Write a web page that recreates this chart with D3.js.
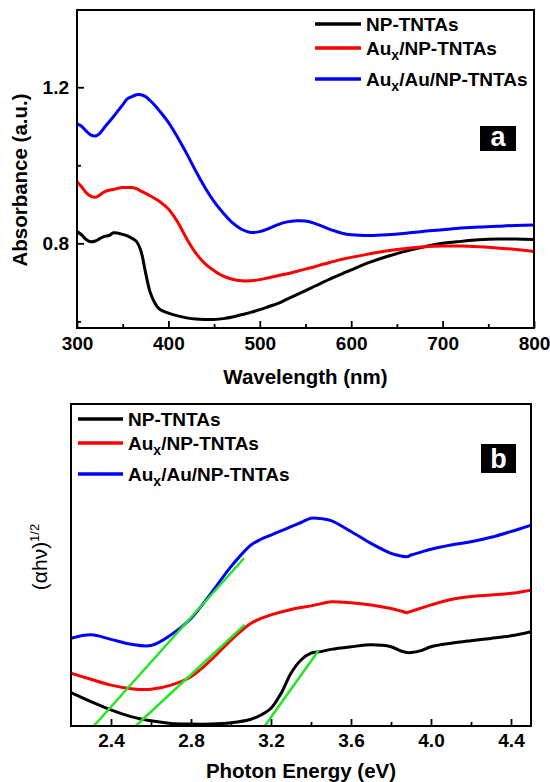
<!DOCTYPE html>
<html>
<head>
<meta charset="utf-8">
<script src="https://cdn.jsdelivr.net/npm/d3@7"></script>
<style>
  html, body { margin: 0; padding: 0; background: #fff; }
  svg text { font-family: "Liberation Sans", Arial, sans-serif; }
</style>
</head>
<body>
<svg id="fig" width="550" height="782"></svg>
<script>
// ---- Panel (a): UV-vis absorbance spectra ----
const wavelength = [300,305,310,315,320,325,330,335,340,345,350,355,360,365,370,375,380,385,390,400,410,420,430,440,450,460,470,480,490,500,510,520,530,540,550,560,570,580,590,600,620,640,660,680,700,720,740,760,780,800];
const absNP = [0.830,0.822,0.810,0.804,0.806,0.812,0.818,0.820,0.827,0.826,0.823,0.819,0.813,0.805,0.780,0.725,0.675,0.648,0.632,0.621,0.614,0.609,0.606,0.605,0.605,0.607,0.611,0.617,0.623,0.630,0.638,0.646,0.657,0.668,0.679,0.690,0.701,0.712,0.722,0.732,0.751,0.767,0.780,0.791,0.800,0.805,0.809,0.811,0.811,0.810];
const absAuxNP = [0.958,0.945,0.930,0.921,0.918,0.924,0.932,0.936,0.938,0.941,0.943,0.943,0.943,0.940,0.934,0.928,0.922,0.915,0.908,0.888,0.855,0.812,0.775,0.748,0.730,0.716,0.708,0.704,0.704,0.707,0.712,0.717,0.722,0.728,0.734,0.740,0.747,0.753,0.759,0.764,0.773,0.781,0.787,0.791,0.793,0.793,0.791,0.788,0.784,0.779];
const absAuxAuNP = [1.106,1.100,1.088,1.078,1.075,1.082,1.097,1.111,1.125,1.140,1.155,1.170,1.176,1.181,1.181,1.176,1.166,1.154,1.140,1.110,1.072,1.030,0.985,0.943,0.907,0.878,0.853,0.836,0.828,0.830,0.838,0.848,0.855,0.858,0.857,0.851,0.842,0.833,0.826,0.822,0.820,0.822,0.826,0.831,0.835,0.839,0.842,0.844,0.846,0.847];
const wlMajorTicks = [300,400,500,600,700,800];
const wlMinorTicks = [350,450,550,650,750];
const absMajorTicks = [0.8,1.2];
const absMinorTicks = [0.6,1.0];

// ---- Panel (b): Tauc plot ----
const energy = [2.2,2.3,2.4,2.5,2.6,2.7,2.8,2.9,3.0,3.1,3.15,3.2,3.25,3.3,3.35,3.4,3.45,3.5,3.6,3.7,3.8,3.85,3.88,3.9,3.95,4.0,4.1,4.2,4.3,4.4,4.5];
const taucNP = [10.4,7.6,5.0,2.9,1.6,0.8,0.6,0.6,1.0,2.1,3.4,5.5,10.1,16.4,20.5,22.6,23.1,23.8,24.6,25.2,24.6,23.3,22.8,22.8,23.4,24.6,25.7,26.5,27.2,28.0,29.3];
const taucAuxNP = [16.4,14.5,12.7,11.6,11.4,12.7,15.3,20.5,26.7,31.9,33.4,34.5,35.4,36.2,36.8,37.3,38.0,38.6,38.3,37.6,36.5,35.7,35.2,35.6,36.6,37.6,39.3,40.2,40.7,41.2,42.2];
const taucAuxAuNP = [27.2,28.3,26.9,25.4,25.0,28.3,33.4,41.2,49.5,56.2,58.0,59.3,60.6,61.9,63.2,64.5,64.4,63.8,60.4,56.7,53.6,52.8,52.6,53.1,54.0,54.9,56.2,57.2,58.6,60.4,62.4];
// Linear extrapolations of the absorption edges: [x0, y0, x1, y1]
const edgeFits = [
  [2.314, 0, 3.065, 52.1],
  [2.523, 0, 3.068, 31.4],
  [3.169, 0, 3.437, 23.4]
];
const eMajorTicks = [2.4,2.8,3.2,3.6,4.0,4.4];
const eMinorTicks = [2.6,3.0,3.4,3.8,4.2];

const seriesNames = ["NP-TNTAs", "Aux/NP-TNTAs", "Aux/Au/NP-TNTAs"];
const seriesColors = ["#000000", "#ff0000", "#0000ff"];

const svg = d3.select("#fig");

function legend(g, x0, x1, rows) {
  rows.forEach((ly, i) => {
    g.append("line").attr("x1", x0).attr("x2", x1).attr("y1", ly).attr("y2", ly)
      .attr("stroke", seriesColors[i]).attr("stroke-width", 3.5);
    const t = g.append("text").attr("x", x1 + 5).attr("y", ly + 7)
      .attr("font-size", 19).attr("font-weight", "bold").attr("fill", "#000");
    const name = seriesNames[i];
    if (name.startsWith("Aux")) {
      t.append("tspan").text("Au");
      t.append("tspan").attr("dy", 5).attr("font-size", 14).text("x");
      t.append("tspan").attr("dy", -5).text(name.slice(3));
    } else {
      t.text(name);
    }
  });
}

function panelTag(g, x, y, w, h, letter) {
  g.append("rect").attr("x", x).attr("y", y).attr("width", w).attr("height", h).attr("fill", "#000");
  g.append("text").attr("x", x + w / 2).attr("y", y + h - 5).attr("text-anchor", "middle")
    .attr("font-size", 27).attr("font-weight", "bold").attr("fill", "#fff").text(letter);
}

// ================= Panel (a) =================
{
  const L = 77, T = 10, W = 457, H = 318;
  const x = d3.scaleLinear().domain([300, 800]).range([0, W]);
  const y = d3.scaleLinear().domain([0.583, 1.398]).range([H, 0]);
  const g = svg.append("g").attr("transform", `translate(${L},${T})`);

  g.append("clipPath").attr("id", "clipA").append("rect").attr("width", W).attr("height", H);

  const line = d3.line().x((d, i) => x(wavelength[i])).y(d => y(d)).curve(d3.curveCatmullRom.alpha(0.5));
  [absNP, absAuxNP, absAuxAuNP].forEach((s, i) => {
    g.append("path").datum(s).attr("d", line).attr("fill", "none")
      .attr("stroke", seriesColors[i]).attr("stroke-width", 3).attr("stroke-linejoin", "round")
      .attr("clip-path", "url(#clipA)");
  });

  // axes with inward ticks
  g.append("g").attr("transform", `translate(0,${H})`)
    .call(d3.axisBottom(x).tickValues(wlMajorTicks).tickSize(-7).tickPadding(9).tickFormat(d3.format("d")));
  g.append("g").attr("transform", `translate(0,${H})`)
    .call(d3.axisBottom(x).tickValues(wlMinorTicks).tickSize(-4).tickFormat(""));
  g.append("g")
    .call(d3.axisLeft(y).tickValues(absMajorTicks).tickSize(-7).tickPadding(8).tickFormat(d3.format(".1f")));
  g.append("g")
    .call(d3.axisLeft(y).tickValues(absMinorTicks).tickSize(-4).tickFormat(""));
  g.selectAll(".domain").remove();
  g.selectAll(".tick line").attr("stroke", "#000").attr("stroke-width", 1.8);
  g.selectAll(".tick text").attr("font-size", 19).attr("font-weight", "bold").attr("fill", "#000")
    .attr("font-family", "Liberation Sans, Arial, sans-serif");

  g.append("rect").attr("width", W).attr("height", H).attr("fill", "none")
    .attr("stroke", "#000").attr("stroke-width", 2);

  legend(svg, 315, 361, [24, 48, 79]);
  panelTag(svg, 480, 126, 36, 25, "a");

  svg.append("text").attr("x", L + W / 2).attr("y", 384).attr("text-anchor", "middle")
    .attr("font-size", 20.5).attr("font-weight", "bold").text("Wavelength (nm)");
  svg.append("text").attr("transform", `translate(27,${T + 170}) rotate(-90)`).attr("text-anchor", "middle")
    .attr("font-size", 20.5).attr("font-weight", "bold").text("Absorbance (a.u.)");
}

// ================= Panel (b) =================
{
  const L = 71, T = 404, W = 460, H = 322;
  const x = d3.scaleLinear().domain([2.2, 4.5]).range([0, W]);
  const y = d3.scaleLinear().domain([0, 100]).range([H, 0]);
  const g = svg.append("g").attr("transform", `translate(${L},${T})`);

  g.append("clipPath").attr("id", "clipB").append("rect").attr("width", W).attr("height", H);

  const line = d3.line().x((d, i) => x(energy[i])).y(d => y(d)).curve(d3.curveCatmullRom.alpha(0.5));
  [taucNP, taucAuxNP, taucAuxAuNP].forEach((s, i) => {
    g.append("path").datum(s).attr("d", line).attr("fill", "none")
      .attr("stroke", seriesColors[i]).attr("stroke-width", 3).attr("stroke-linejoin", "round")
      .attr("clip-path", "url(#clipB)");
  });

  edgeFits.forEach(f => {
    g.append("line").attr("x1", x(f[0])).attr("y1", y(f[1])).attr("x2", x(f[2])).attr("y2", y(f[3]))
      .attr("stroke", "#22e622").attr("stroke-width", 2.5);
  });

  g.append("g").attr("transform", `translate(0,${H})`)
    .call(d3.axisBottom(x).tickValues(eMajorTicks).tickSize(-7).tickPadding(8).tickFormat(d3.format(".1f")));
  g.append("g").attr("transform", `translate(0,${H})`)
    .call(d3.axisBottom(x).tickValues(eMinorTicks).tickSize(-4).tickFormat(""));
  g.selectAll(".domain").remove();
  g.selectAll(".tick line").attr("stroke", "#000").attr("stroke-width", 1.8);
  g.selectAll(".tick text").attr("font-size", 19).attr("font-weight", "bold").attr("fill", "#000")
    .attr("font-family", "Liberation Sans, Arial, sans-serif");

  g.append("rect").attr("width", W).attr("height", H).attr("fill", "none")
    .attr("stroke", "#000").attr("stroke-width", 2);

  legend(svg, 78, 123, [419, 443, 474]);
  panelTag(svg, 481, 444, 35, 29, "b");

  svg.append("text").attr("x", L + W / 2).attr("y", 778).attr("text-anchor", "middle")
    .attr("font-size", 20.5).attr("font-weight", "bold").text("Photon Energy (eV)");
  const yl = svg.append("text").attr("transform", "translate(47,557) rotate(-90)").attr("text-anchor", "middle")
    .attr("font-size", 21);
  yl.append("tspan").text("(\u03b1h\u03bd)");
  yl.append("tspan").attr("dy", -8).attr("font-size", 13).text("1/2");
}
</script>
</body>
</html>
